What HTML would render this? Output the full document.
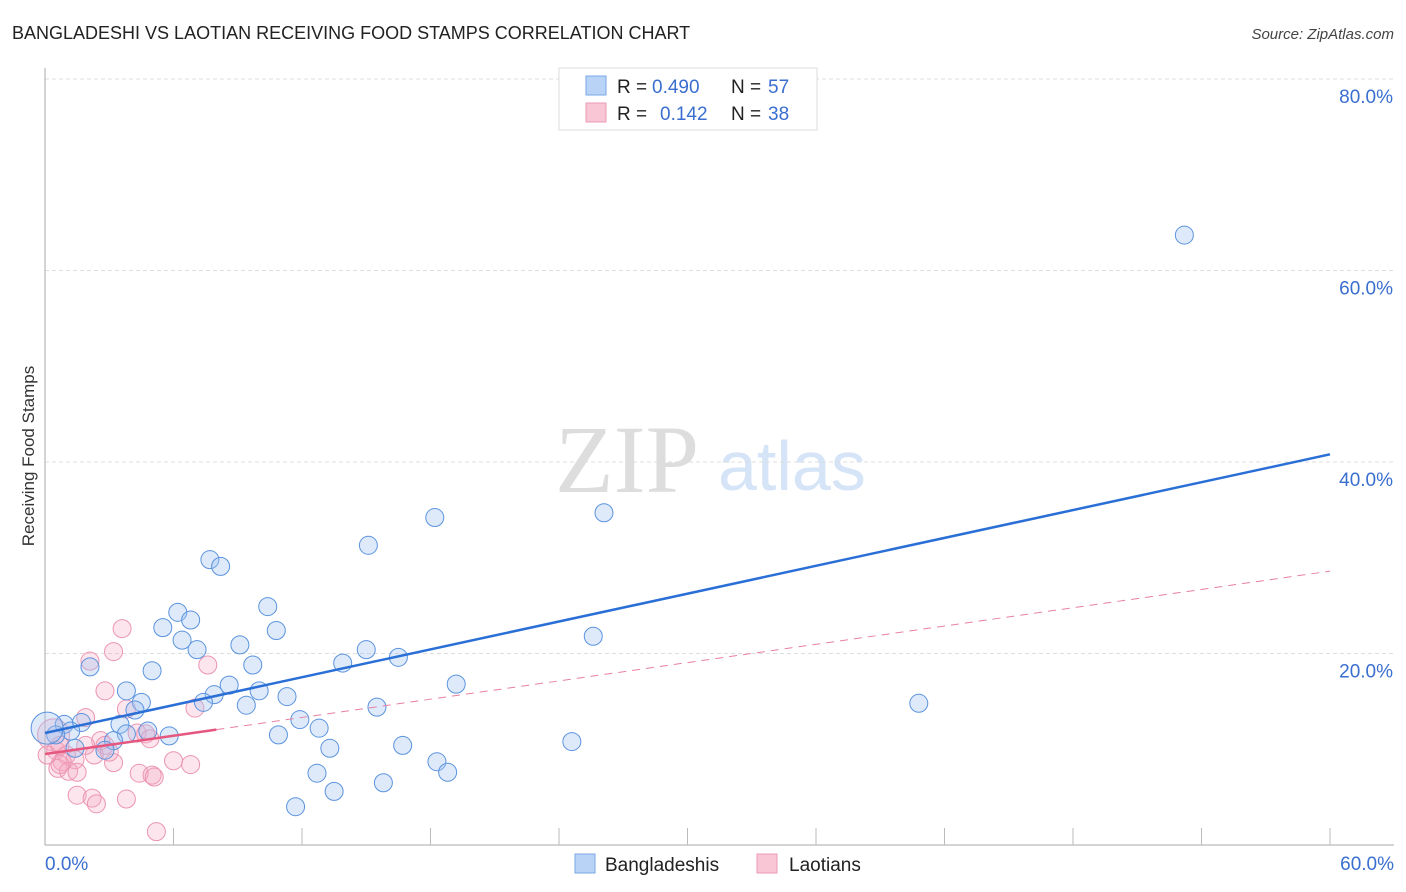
<!DOCTYPE html>
<html><head><meta charset="utf-8"><style>
body{margin:0;background:#fff;font-family:"Liberation Sans",sans-serif}
svg{display:block}
</style></head><body>
<svg id="chart" width="1406" height="892" xmlns="http://www.w3.org/2000/svg">
<text x="12" y="39" font-size="18" fill="#222">BANGLADESHI VS LAOTIAN RECEIVING FOOD STAMPS CORRELATION CHART</text>
<text x="1394" y="39" font-size="15" fill="#444" font-style="italic" text-anchor="end">Source: ZipAtlas.com</text>
<text x="34" y="456" font-size="17" fill="#333" text-anchor="middle" transform="rotate(-90 34 456)">Receiving Food Stamps</text>
<text x="555" y="492" font-size="96" fill="#ddd" font-family="Liberation Serif,serif">ZIP</text>
<text x="718" y="490" font-size="70" fill="#d6e4f7">atlas</text>
<g id="grid"></g><g id="axes"></g><g id="pts"></g><g id="lines"></g>
<g>
<rect x="559" y="68" width="258" height="62" fill="#fff" stroke="#ddd"/>
<rect x="586" y="76" width="20" height="19" fill="#b8d3f5" stroke="#7aa7e6"/>
<rect x="586" y="103" width="20" height="19" fill="#f9c6d5" stroke="#ec9ab5"/>
<text x="617" y="93" font-size="19" fill="#222">R =</text>
<text x="652" y="93" font-size="19" fill="#3a6fd0">0.490</text>
<text x="731" y="93" font-size="19" fill="#222">N =</text>
<text x="768" y="93" font-size="19" fill="#3a6fd0">57</text>
<text x="617" y="120" font-size="19" fill="#222">R =</text>
<text x="660" y="120" font-size="19" fill="#3a6fd0">0.142</text>
<text x="731" y="120" font-size="19" fill="#222">N =</text>
<text x="768" y="120" font-size="19" fill="#3a6fd0">38</text>
</g>
<g>
<rect x="575" y="854" width="20" height="19" fill="#b8d3f5" stroke="#7aa7e6"/>
<text x="605" y="871" font-size="19" fill="#222">Bangladeshis</text>
<rect x="757" y="854" width="20" height="19" fill="#f9c6d5" stroke="#ec9ab5"/>
<text x="789" y="871" font-size="19" fill="#222">Laotians</text>
</g>
</svg>
<script>
const yTicks=[20,40,60,80];
const xTickLabels=["0.0%","60.0%"];
const blueX=[53.2,26.1,18.2,15.1,7.7,8.2,10.4,6.2,6.8,5.5,10.8,6.4,25.6,9.1,7.1,15.0,16.5,13.9,9.7,2.1,5.0,19.2,8.6,3.8,10.0,11.3,7.9,4.5,40.8,7.4,9.4,15.5,4.2,11.9,1.7,0.9,3.5,12.8,4.8,1.2,3.8,5.8,10.9,0.5,3.2,24.6,16.7,13.3,1.4,2.8,18.3,18.8,12.7,15.8,13.5,11.7,0.1];
const blueY=[63.7,34.7,34.2,31.3,29.8,29.1,24.9,24.3,23.5,22.7,22.4,21.4,21.8,20.9,20.4,20.4,19.6,19.0,18.8,18.6,18.2,16.8,16.7,16.1,16.1,15.5,15.7,14.9,14.8,14.9,14.6,14.4,14.1,13.1,12.8,12.6,12.6,12.2,11.9,11.9,11.6,11.4,11.5,11.5,10.9,10.8,10.4,10.1,10.1,9.9,8.7,7.6,7.5,6.5,5.6,4.0,12.2];
const pinkX=[3.6,2.1,3.2,7.6,2.8,3.8,7.0,1.9,4.3,4.7,0.4,2.6,2.8,0.5,1.0,2.3,1.4,0.8,3.2,6.0,6.8,0.6,1.1,4.4,5.0,5.1,1.5,2.2,3.8,2.4,5.2,0.7,0.1,1.9,3.0,4.9,1.5,0.7];
const pinkY=[22.6,19.2,20.2,18.8,16.1,14.2,14.3,13.3,11.7,11.6,11.5,10.9,10.4,9.9,9.4,9.4,8.9,8.7,8.6,8.8,8.4,8.0,7.7,7.5,7.3,7.1,5.2,4.9,4.8,4.3,1.4,8.4,9.4,10.4,9.7,11.1,7.6,10.4];
const blueTrend=[11.7,40.8];
const pinkTrend=[9.5,28.6];
const pinkSolidEnd=8.0;
const NS="http://www.w3.org/2000/svg";
const X=v=>45+v/60*1285, Y=v=>845-v/20*191.5;
function mk(t,a,p){const e=document.createElementNS(NS,t);for(const k in a)e.setAttribute(k,a[k]);document.getElementById(p).appendChild(e);return e;}
yTicks.forEach(t=>{
 const l=mk('line',{x1:45,x2:1394,y1:Y(t),y2:Y(t),stroke:'#ddd','stroke-dasharray':'4,3'},'grid');
 
 
 const tx=mk('text',{x:1393,y:Y(t)+24,'font-size':19,fill:'#3a6fd0','text-anchor':'end'},'grid');
 tx.textContent=t.toFixed(1)+'%';
 
 
});
const ax=mk('line',{x1:45,x2:45,y1:68,y2:845,stroke:'#aaa'},'axes');


const bx=mk('line',{x1:45,x2:1394,y1:845,y2:845,stroke:'#aaa'},'axes');


for(let i=1;i<=10;i++){const t=mk('line',{x1:X(i*6),x2:X(i*6),y1:828,y2:845,stroke:'#bbb'},'axes');
 
 }
const xl0=mk('text',{x:45,y:870,'font-size':19,fill:'#3a6fd0'},'axes');xl0.textContent=xTickLabels[0];


const xl1=mk('text',{x:1394,y:870,'font-size':19,fill:'#3a6fd0','text-anchor':'end'},'axes');xl1.textContent=xTickLabels[1];


pinkX.forEach((v,i)=>{const c=mk('circle',{cx:X(v),cy:Y(pinkY[i]),r:i==10?16:9,fill:'rgba(246,170,195,0.3)',stroke:'#ec95b2','stroke-width':1},'pts');
 
 });
blueX.forEach((v,i)=>{const c=mk('circle',{cx:X(v),cy:Y(blueY[i]),r:i==56?16:9,fill:'rgba(160,195,240,0.35)',stroke:'#5b93de','stroke-width':1},'pts');
 
 });
const bl=mk('line',{x1:X(0),y1:Y(blueTrend[0]),x2:X(60),y2:Y(blueTrend[1]),stroke:'#2a6fd6','stroke-width':2.5},'lines');


const pv=x=>pinkTrend[0]+(pinkTrend[1]-pinkTrend[0])*x/60;
const pd=mk('line',{x1:X(pinkSolidEnd),y1:Y(pv(pinkSolidEnd)),x2:X(60),y2:Y(pinkTrend[1]),stroke:'#e8809f','stroke-width':1,'stroke-dasharray':'8,6'},'lines');


const ps=mk('line',{x1:X(0),y1:Y(pinkTrend[0]),x2:X(pinkSolidEnd),y2:Y(pv(pinkSolidEnd)),stroke:'#e5577f','stroke-width':2.5},'lines');


</script>
</body></html>
